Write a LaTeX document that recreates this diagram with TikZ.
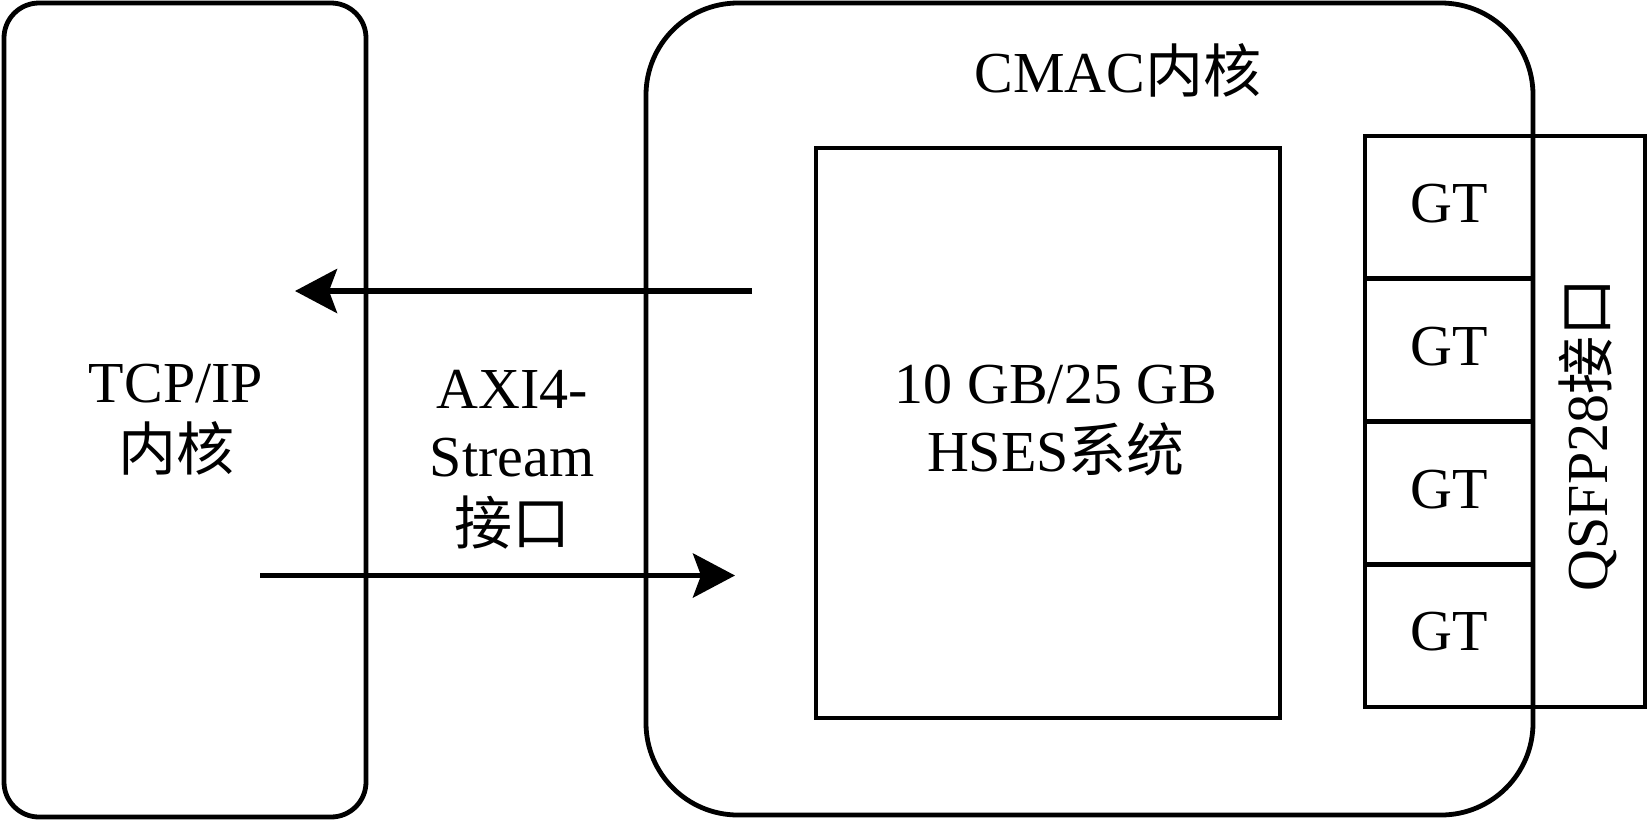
\documentclass[tikz,border=0pt]{standalone}
\usepackage{fontspec}
\setmainfont{Liberation Serif}
\newfontfamily\cjk{Noto Sans CJK SC}
\usetikzlibrary{arrows.meta}
\begin{document}
\begin{tikzpicture}[x=0.5pt,y=-0.5pt,
  box/.style={draw, line width=2.4pt, inner sep=0pt, outer sep=0pt},
  lbl/.style={font=\fontsize{29}{34}\selectfont, align=center, inner sep=0pt},
  gtcell/.style={box, lbl, minimum width=84pt, minimum height=71.375pt},
  flow/.style={line width=2.8pt, -{Stealth[length=21pt,width=22pt,inset=4pt]}}]
\useasboundingbox (0,0) rectangle (1648,820);
% boxes
\node[box, rounded corners=17.5pt, minimum width=181pt, minimum height=407pt] (tcp) at (185,410) {};
\node[box, rounded corners=46pt, minimum width=443.5pt, minimum height=406pt] (cmac) at (1089.5,409) {};
\node[box, minimum width=232pt, minimum height=285pt] (hses) at (1048,433) {};
\node[box, minimum width=140pt, minimum height=285.5pt] (qsfp) at (1505,421.5) {};
\node[gtcell] (gt1) at (1449,207.4) {\raisebox{4pt}{GT}};
\node[gtcell] (gt2) at (1449,350.1) {\raisebox{4pt}{GT}};
\node[gtcell] (gt3) at (1449,492.9) {\raisebox{4pt}{GT}};
\node[gtcell] (gt4) at (1449,635.6) {\raisebox{4pt}{GT}};
% labels
\node[lbl] (tcplbl) at (176,420) {TCP/IP\\{\cjk 内核}};
\node[lbl] (axilbl) at (512,460) {AXI4-\\Stream\\{\cjk 接口}};
\node[lbl] (hseslbl) at (1056,420) {10 GB/25 GB\\HSES{\cjk 系统}};
\node[lbl, anchor=base] (cmaclbl) at (1118,92) {CMAC{\cjk 内核}};
\node[lbl, anchor=base, rotate=90] (qsfplbl) at (1607,435) {QSFP28{\cjk 接口}};
% arrows
\coordinate (rxs) at (752,291);
\coordinate (rxe) at (295,291);
\coordinate (txs) at (260,575.5);
\coordinate (txe) at (735,575.5);
\draw[flow] (rxs) -- (rxe);
\draw[flow] (txs) -- (txe);
\end{tikzpicture}
\end{document}
